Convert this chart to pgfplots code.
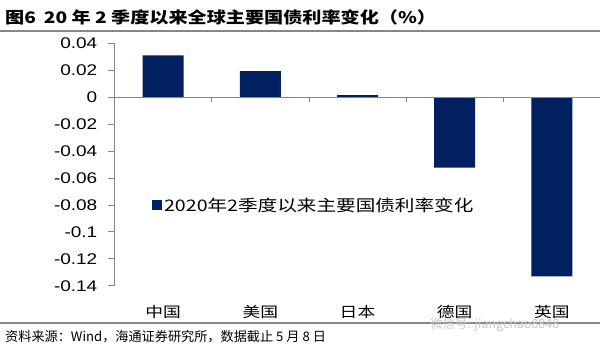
\documentclass[border=0pt]{standalone}
\usepackage{fontspec}
\setmainfont{Liberation Sans}[FakeStretch=1.23]
\newfontfamily\cjk{Noto Sans CJK SC}[FakeStretch=1.23]
\newfontfamily\cjktitle{Noto Sans CJK SC}[FakeStretch=1.2]
\newfontfamily\cjkplain{Noto Sans CJK SC}
\usepackage{pgfplots}
\pgfplotsset{compat=1.18}
\definecolor{barc}{RGB}{0,32,96}
\definecolor{axc}{RGB}{134,134,134}
\begin{document}
\begin{tikzpicture}[x=1bp,y=1bp]
\path[use as bounding box] (0,0) rectangle (600,351);
\draw[axc, line width=2.5bp] (0,320) -- (600,320);
\draw[axc, line width=1.5bp] (0,28) -- (600,28);
\node[anchor=west, inner sep=0pt, font=\cjktitle\bfseries\fontsize{16}{16}\selectfont] at (5,334) {图6\hspace{8bp}20 年 2 季度以来全球主要国债利率变化（\%）};
\node[anchor=west, inner sep=0pt, font=\cjkplain\fontsize{13.2}{13.2}\selectfont] at (5,14) {资料来源：Wind，海通证券研究所，数据截止 5 月 8 日};
\begin{axis}[
  at={(114.5bp,65.3bp)}, anchor=south west,
  scale only axis, width=486bp, height=242.4bp,
  xmin=-0.5, xmax=4.5, ymin=-0.14, ymax=0.04,
  axis x line*=bottom,
  x axis line style={draw=none},
  xtick={0,1,2,3,4},
  xticklabels={中国,美国,日本,德国,英国},
  xtick style={draw=none},
  xticklabel style={font=\cjk\fontsize{14.5}{14.5}\selectfont, anchor=center, yshift=-19bp},
  axis y line*=left,
  y axis line style={draw=axc, line width=0.8bp, -},
  ytick={-0.14,-0.12,-0.1,-0.08,-0.06,-0.04,-0.02,0,0.02,0.04},
  yticklabels={-0.14,-0.12,-0.1,-0.08,-0.06,-0.04,-0.02,0,0.02,0.04},
  ytick style={draw=axc, line width=0.8bp},
  tick align=outside, major tick length=7bp,
  yticklabel style={font=\fontsize{15.5}{15.5}\selectfont, text=black, anchor=east, inner sep=0pt, xshift=-10bp},
  ybar, bar width=41bp,
  legend style={at={(0.077,0.333)}, anchor=west, draw=none, fill=none, font=\cjk\fontsize{16}{16}\selectfont, inner sep=0pt},
  legend image code/.code={\fill[barc] (0bp,-5bp) rectangle (10bp,5bp);},
  clip=false,
]
\addplot[fill=barc, draw=none] coordinates {(0,0.031) (1,0.0193) (2,0.0015) (3,-0.0523) (4,-0.133)};
\addlegendentry{2020年2季度以来主要国债利率变化}
\draw[axc, line width=0.8bp] (axis cs:-0.5,0) -- (axis cs:4.5,0);
\pgfplotsinvokeforeach{0.5,1.5,2.5,3.5,4.5}{\draw[axc, line width=0.8bp] (axis cs:#1,0) -- ([yshift=-5bp]axis cs:#1,0);}
\end{axis}
\node[anchor=west, inner sep=0pt, text=black!22, font=\cjkplain\fontsize{12.5}{12.5}\selectfont] at (430,26) {微信号: jiangchao8848};
\end{tikzpicture}
\end{document}
